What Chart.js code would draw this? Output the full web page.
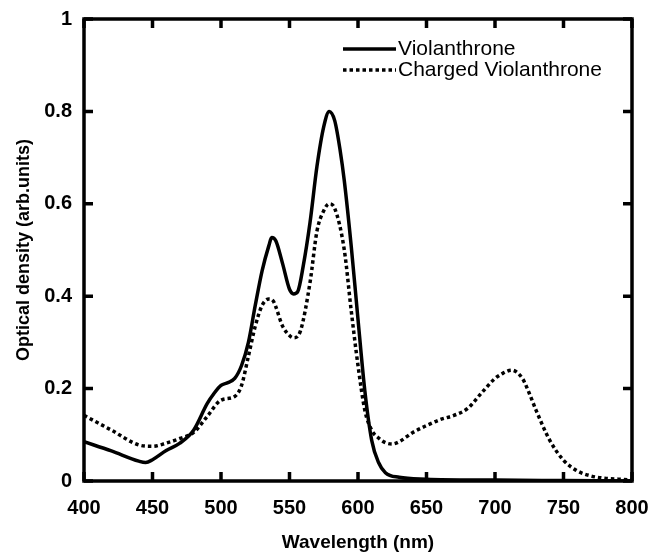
<!DOCTYPE html>
<html>
<head>
<meta charset="utf-8">
<script src="https://cdn.jsdelivr.net/npm/chart.js"></script>
<style>
  html, body { margin: 0; padding: 0; background: #fff; }
  #wrap { width: 649px; height: 555px; }
</style>
</head>
<body>
<div id="wrap"><canvas id="spectrum"></canvas></div>
<script>
// absorption spectra, wavelength in nm
const wlNeutral = [400, 420, 440, 445, 450, 460, 470, 480, 490, 495, 500, 505, 510, 515, 520, 525, 530, 535, 537, 540, 545, 550, 553, 556, 560, 565, 570, 575, 579, 583, 587, 590, 595, 600, 605, 610, 615, 620, 630, 650, 700, 750, 800];
const violanthrone = [0.085, 0.065, 0.043, 0.04, 0.046, 0.066, 0.082, 0.11, 0.168, 0.19, 0.207, 0.213, 0.222, 0.25, 0.30, 0.38, 0.455, 0.51, 0.527, 0.52, 0.47, 0.415, 0.405, 0.41, 0.465, 0.56, 0.68, 0.767, 0.80, 0.78, 0.715, 0.65, 0.51, 0.35, 0.195, 0.088, 0.04, 0.018, 0.008, 0.004, 0.002, 0.001, 0.0];

const wlCharged = [400, 420, 440, 450, 460, 470, 480, 490, 500, 510, 515, 520, 525, 530, 535, 538, 545, 550, 553, 558, 565, 570, 575, 579, 583, 590, 595, 600, 605, 610, 615, 620, 625, 630, 640, 650, 660, 670, 680, 690, 700, 705, 712, 720, 725, 730, 740, 750, 760, 770, 780, 790, 800];
const chargedViolanthrone = [0.142, 0.11, 0.078, 0.075, 0.082, 0.092, 0.105, 0.14, 0.175, 0.183, 0.207, 0.27, 0.335, 0.38, 0.394, 0.39, 0.335, 0.315, 0.31, 0.325, 0.43, 0.54, 0.585, 0.60, 0.59, 0.5, 0.37, 0.25, 0.153, 0.11, 0.093, 0.083, 0.08, 0.085, 0.105, 0.12, 0.133, 0.142, 0.157, 0.19, 0.222, 0.232, 0.24, 0.222, 0.19, 0.153, 0.088, 0.045, 0.022, 0.011, 0.006, 0.004, 0.002];

const xTicks = [400, 450, 500, 550, 600, 650, 700, 750, 800];
const yTicks = [0, 0.2, 0.4, 0.6, 0.8, 1];
const yTickLabels = ['0', '0.2', '0.4', '0.6', '0.8', '1'];

const seriesNames = ['Violanthrone', 'Charged Violanthrone'];

const FONT = '"Liberation Sans", Arial, Helvetica, sans-serif';

function toPoints(xs, ys) {
    return xs.map((x, i) => ({ x: x, y: ys[i] }));
}

// frame, inward ticks on all four sides, and the in-plot legend
const framePlugin = {
    id: 'frame',
    afterDatasetsDraw(chart) {
        const { ctx, chartArea: a, scales } = chart;
        const tickLen = 9;
        ctx.save();
        ctx.strokeStyle = '#000';
        ctx.lineWidth = 3.5;
        ctx.strokeRect(a.left, a.top, a.right - a.left, a.bottom - a.top);

        ctx.lineWidth = 3.5;
        ctx.beginPath();
        xTicks.forEach(v => {
            const px = scales.x.getPixelForValue(v);
            ctx.moveTo(px, a.bottom); ctx.lineTo(px, a.bottom - tickLen);
            ctx.moveTo(px, a.top); ctx.lineTo(px, a.top + tickLen);
        });
        yTicks.forEach(v => {
            const py = scales.y.getPixelForValue(v);
            ctx.moveTo(a.left, py); ctx.lineTo(a.left + tickLen, py);
            ctx.moveTo(a.right, py); ctx.lineTo(a.right - tickLen, py);
        });
        ctx.stroke();

        // legend
        const lx = 343, ly = 49, gap = 21;
        ctx.font = '21px ' + FONT;
        ctx.fillStyle = '#000';
        ctx.textBaseline = 'middle';
        chart.data.datasets.forEach((ds, i) => {
            const y = ly + i * gap;
            ctx.lineWidth = 3.5;
            ctx.setLineDash(ds.borderDash || []);
            ctx.beginPath();
            ctx.moveTo(lx, y); ctx.lineTo(lx + 53, y);
            ctx.stroke();
            ctx.setLineDash([]);
            ctx.fillText(ds.label, lx + 55, y);
        });
        ctx.restore();
    }
};

new Chart(document.getElementById('spectrum'), {
    type: 'line',
    data: {
        datasets: [
            {
                label: seriesNames[0],
                data: toPoints(wlNeutral, violanthrone),
                borderColor: '#000',
                borderWidth: 3.5,
                pointRadius: 0,
                cubicInterpolationMode: 'monotone',
                fill: false
            },
            {
                label: seriesNames[1],
                data: toPoints(wlCharged, chargedViolanthrone),
                borderColor: '#000',
                borderWidth: 3.5,
                borderDash: [3.5, 3],
                pointRadius: 0,
                cubicInterpolationMode: 'monotone',
                fill: false
            }
        ]
    },
    options: {
        responsive: true,
        maintainAspectRatio: false,
        animation: false,
        layout: { padding: { top: 19, right: 17, left: 0, bottom: 0 } },
        plugins: {
            legend: { display: false },
            tooltip: { enabled: false }
        },
        scales: {
            x: {
                type: 'linear',
                min: 400,
                max: 800,
                afterBuildTicks: s => { s.ticks = xTicks.map(v => ({ value: v })); },
                afterFit: s => { s.height = 74; s.paddingLeft = 0; s.paddingRight = 0; },
                grid: { display: false, drawTicks: false },
                border: { display: false },
                ticks: {
                    color: '#000',
                    padding: 15,
                    maxRotation: 0,
                    font: { family: FONT, size: 20, weight: 'bold' }
                },
                title: {
                    display: true,
                    text: 'Wavelength (nm)',
                    color: '#000',
                    padding: { top: 0, bottom: 1 },
                    font: { family: FONT, size: 19, weight: 'bold' }
                }
            },
            y: {
                min: 0,
                max: 1,
                afterBuildTicks: s => { s.ticks = yTicks.map(v => ({ value: v })); },
                afterFit: s => { s.width = 84; s.paddingTop = 0; s.paddingBottom = 0; },
                grid: { display: false, drawTicks: false },
                border: { display: false },
                ticks: {
                    color: '#000',
                    padding: 12,
                    font: { family: FONT, size: 20, weight: 'bold' },
                    callback: (v, i) => yTickLabels[yTicks.indexOf(v)]
                },
                title: {
                    display: true,
                    text: 'Optical density (arb.units)',
                    color: '#000',
                    padding: { top: 13, bottom: 0 },
                    font: { family: FONT, size: 18, weight: 'bold' }
                }
            }
        }
    },
    plugins: [framePlugin]
});
</script>
</body>
</html>
